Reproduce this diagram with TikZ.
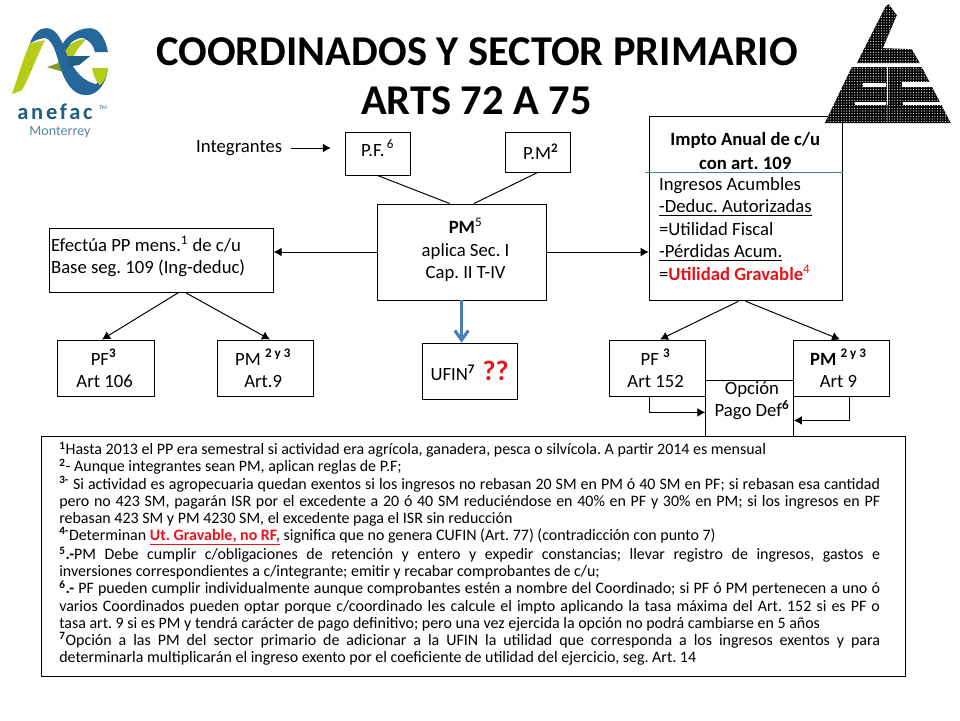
\documentclass[tikz,border=0pt]{standalone}
\usepackage{fontspec}
\setmainfont{Carlito}
\usepackage{tikz}
\usetikzlibrary{
  arrows.meta,
  calc,
  patterns.meta,
  positioning
}
\definecolor{anefacblue}{HTML}{25679A}
\definecolor{anefacteal}{HTML}{1F5F7F}
\definecolor{anefacgreen}{HTML}{B5CC18}
\definecolor{anefacdark}{HTML}{7F9A1C}
\definecolor{linerule}{HTML}{4A7EBB}
\definecolor{gravred}{HTML}{E8141C}
\newfontfamily\anefacfont[LetterSpace=12]{Carlito}
\tikzset{
  stepline/.style={line width=0.7pt,-{Latex[length=2mm,width=2.2mm]}},
  plainline/.style={line width=0.7pt},
  caja/.style={draw,line width=0.7pt,align=center,inner sep=0pt,font=\fontsize{13.3}{16}\selectfont},
  cuerpo/.style={font=\fontsize{13.3}{16}\selectfont,inner sep=0pt},
  titulo/.style={font=\fontsize{30.2}{30}\selectfont\bfseries},
  puntos/.style={pattern={Dots[radius=0.42pt,distance=1.9pt]},pattern color=white}
}
\begin{document}
\frenchspacing
\begin{tikzpicture}
                \useasboundingbox (0, 0) rectangle (24, 18);
                \fill[white] (0, 0) rectangle (24, 18);

                % titles
                \node[titulo] (title1) at (11.93, 16.7) {COORDINADOS Y SECTOR PRIMARIO};
                \node[titulo] (title2) at (11.91, 15.47) {ARTS 72 A 75};

                % top row
                \node[cuerpo] (integrantes) at (5.98, 14.3) {Integrantes};
                \node[caja,minimum width=1.63cm,minimum height=1.07cm] (pf) at (9.44, 14.16)
                  {\raisebox{2.7mm}{P.F.\textsuperscript{\,6}}};
                \node[caja,minimum width=1.62cm,minimum height=1.0cm] (pm) at (13.44, 14.2)
                  {\raisebox{-2.4mm}{\hspace*{1.6mm}P.M\textsuperscript{\textbf{2}}}};

                % centre
                \node[caja,minimum width=4.22cm,minimum height=2.4cm] (pmcentre) at (11.54, 11.7) {};
                \node[cuerpo,align=center] (pmtxt) at (11.64, 11.75)
                  {\textbf{PM}\textsuperscript{5}\\aplica Sec. I\\Cap. II T-IV};
                \node[caja,minimum width=2.38cm,minimum height=1.4cm] (ufin) at (11.74, 8.72)
                  {UFIN\textsuperscript{\textbf{7}} \,\textcolor{gravred}{\fontsize{20}{16}\selectfont\textbf{??}}};

                % left
                \node[caja,minimum width=5.6cm,minimum height=1.6cm] (pagos) at (4.03, 11.49) {};
                \node[cuerpo,align=left,anchor=west] (pagostxt) at (1.27, 11.59)
                  {Efectúa PP mens.\textsuperscript{1} de c/u\\Base seg. 109 (Ing-deduc)};
                \node[caja,minimum width=2.42cm,minimum height=1.42cm] (pfleft) at (2.64, 8.79)
                  {\hspace*{-1mm}PF\textsuperscript{\textbf{3}}\\\hspace*{-0.5mm}Art 106};
                \node[caja,minimum width=2.4cm,minimum height=1.42cm] (pmleft) at (6.63, 8.79)
                  {\hspace*{-1mm}PM \textsuperscript{\textbf{2 y 3}}\\\hspace*{-1mm}Art.9};

                % right
                \node[caja,minimum width=4.82cm,minimum height=4.6cm] (impto) at (18.64, 12.78) {};
                \node[cuerpo,font=\fontsize{13.3}{17}\selectfont\bfseries,align=center] (imptotit) at (18.63, 14.22)
                  {Impto Anual  de c/u\\con art. 109};
                \node[cuerpo,align=left,anchor=north west] (imptotxt) at (16.47, 13.57)
                  {Ingresos Acumbles\\\underline{-Deduc. Autorizadas}\\=Utilidad Fiscal\\\underline{-Pérdidas Acum.}\\=\textcolor{gravred}{\textbf{Utilidad Gravable}\textsuperscript{4}}};
                \coordinate (rulestart) at (16.12, 13.69);
                \coordinate (ruleend) at (impto.east |- rulestart);
                \draw[linerule,line width=0.6pt] (rulestart) -- (ruleend);

                \node[caja,minimum width=2.41cm,minimum height=1.42cm] (pfright) at (16.44, 8.79)
                  {\hspace*{-1mm}PF \textsuperscript{\textbf{3}}\\\hspace*{-1mm}Art 152};
                \node[caja,minimum width=2.4cm,minimum height=1.42cm] (pmright) at (21.03, 8.79)
                  {\hspace*{-1.4mm}\textbf{PM} \textsuperscript{\textbf{2 y 3}}\\\hspace*{-1.4mm}Art 9};
                \node[caja,minimum width=2.19cm,minimum height=1.4cm] (opcion) at (18.74, 7.8) {};
                \node[cuerpo,align=center] (opciontxt) at (18.8, 7.98)
                  {Opción\\Pago Def\textsuperscript{\textbf{6}}};

                % connectors
                \coordinate (intend) at (8.27, 14.3);
                \draw[stepline] ([xshift=2.2mm]integrantes.east) -- (intend);
                \draw[plainline] (pf.south) -- ([xshift=-3mm]pmcentre.north);
                \draw[plainline] (pm.south) -- ([xshift=3.1mm]pmcentre.north);
                \draw[stepline] (pmcentre.west) -- (pmcentre.west -| pagos.east);
                \draw[stepline] (pmcentre.east) -- (pmcentre.east -| impto.west);
                \draw[-{Straight Barb[length=2.4mm,width=3.4mm]},line width=2.2pt,linerule] (pmcentre.south) -- (pmcentre.south |- ufin.north);
                \draw[stepline] ([xshift=4.2mm]pagos.south) -- ([xshift=-0.9mm]pfleft.north);
                \draw[stepline] ([xshift=6.2mm]pagos.south) -- ([xshift=1.2mm]pmleft.north);
                \draw[stepline] ([xshift=-1.8mm]impto.south) -- ([xshift=0.6mm]pfright.north);
                \draw[stepline] (impto.south) -- ([xshift=-0.3mm]pmright.north);
                \draw[stepline] ([xshift=-2mm]pfright.south) |- ([yshift=-1.1mm]opcion.west);
                \draw[stepline] ([xshift=2.1mm]pmright.south) |- ([yshift=-3.1mm]opcion.east);

                % notes
                \node[draw,line width=0.7pt,fill=white,minimum width=21.6cm,minimum height=5.99cm] (notasbox) at (11.825, 4.09) {};
                \node[anchor=north west,inner sep=0pt,text width=20.52cm,align=justify,font=\fontsize{11.35}{12.2}\selectfont] (notas) at (1.475, 6.96)
                  {\lineskiplimit=-10pt\relax
                  \textsuperscript{\textbf{1}}Hasta 2013 el PP era semestral si actividad era agrícola, ganadera, pesca o silvícola. A partir 2014 es mensual\\
                  \textsuperscript{\textbf{2}}- Aunque integrantes sean PM, aplican reglas de P.F;\\
                  \textsuperscript{\textbf{3-}} Si actividad es agropecuaria quedan exentos si los ingresos no rebasan 20 SM en PM ó 40 SM en PF; si rebasan esa cantidad\linebreak
                  pero no 423 SM, pagarán ISR por el excedente a 20 ó 40 SM reduciéndose en 40\% en PF y 30\% en PM; si los ingresos en PF\linebreak
                  rebasan 423 SM y PM 4230 SM, el excedente paga el ISR sin reducción\\
                  \textsuperscript{\textbf{4-}}Determinan \textcolor{gravred}{\textbf{\underline{Ut. Gravable, no RF,}}} significa que no genera CUFIN (Art. 77) (contradicción con punto 7)\\
                  \textsuperscript{\textbf{5}}\textbf{.-}PM Debe cumplir c/obligaciones de retención y entero y expedir constancias; llevar registro de ingresos, gastos e\linebreak
                  inversiones correspondientes a c/integrante; emitir y recabar comprobantes de c/u;\\
                  \textsuperscript{\textbf{6}}\textbf{.-} PF pueden cumplir individualmente aunque comprobantes estén a nombre del Coordinado; si PF ó PM pertenecen a uno ó\linebreak
                  varios Coordinados pueden optar porque c/coordinado les calcule el impto aplicando la tasa máxima del Art. 152 si es PF o\linebreak
                  tasa art. 9 si es PM y tendrá carácter de pago definitivo; pero una vez ejercida la opción no podrá cambiarse en 5 años\\
                  \textsuperscript{\textbf{7}}Opción a las PM del sector primario de adicionar a la UFIN la utilidad que corresponda a los ingresos exentos y para\linebreak
                  determinarla multiplicarán el ingreso exento por el coeficiente de utilidad del ejercicio, seg. Art. 14};

                % triangle logo
                \begin{scope}[x=0.025cm,y=-0.025cm,shift={(0,-720)}]
                  \fill[black] (886,6) -- (889,4) -- (897,15) -- (883,48) -- (912,49) -- (920,63) -- (857,63) -- cycle;
                  \fill[black] (852,67) -- (922,67) -- (951,123) -- (825,123) -- cycle;
                  \fill[puntos] (886,6) -- (889,4) -- (897,15) -- (883,48) -- (912,49) -- (920,63) -- (857,63) -- cycle;
                  \fill[puntos] (852,67) -- (922,67) -- (951,123) -- (825,123) -- cycle;
                  \fill[white] (863,83) rectangle (886,87);
                  \fill[white] (902,82) rectangle (933,87);
                  \fill[white] (855,102) rectangle (886,105);
                  \fill[white] (903,102) rectangle (943,105);
                  \fill[white] (887,67) rectangle (888.3,105);
                  \fill[black!70] (887,105) rectangle (888.3,123);
                \end{scope}

                % anefac logo
                \begin{scope}[x=0.025cm,y=-0.025cm,shift={(0,-720)}]
                  \fill[anefacgreen] (12,94) .. controls (18,76) and (24,56) .. (30,43) -- (45,40) .. controls (36,58) and (30,76) .. (22,90) -- cycle;
                  \fill[anefacdark] (47,67) -- (58,63) .. controls (62,54) and (66,46) .. (70,43) -- (64,72) -- cycle;
                  \fill[anefacgreen] (60,60) .. controls (66,46) and (74,39) .. (86,39) -- (77,50) -- (66,70) -- cycle;
                  \fill[anefacblue] (30,43) .. controls (34,32) and (40,28) .. (46,28) .. controls (56,28) and (60,38) .. (64,46) .. controls (68,60) and (78,80) .. (96,84) -- (108,68) .. controls (106,86) and (96,95) .. (86,95) .. controls (72,95) and (64,80) .. (60,66) .. controls (56,54) and (54,42) .. (46,38) .. controls (40,38) and (36,40) .. (30,43) -- cycle;
                  \fill[anefacblue] (62,45) .. controls (66,36) and (78,28) .. (90,28) .. controls (100,28) and (106,40) .. (108,52) -- (95,52) .. controls (94,46) and (90,41) .. (84,38) .. controls (76,37) and (70,42) .. (66,50) -- cycle;
                  \fill[anefacteal] (67,56) -- (90,56) -- (79,65) -- (70,66) -- cycle;
                  \fill[anefacgreen] (92,68) -- (108,68) .. controls (107,76) and (104,82) .. (100,85) .. controls (96,82) and (94,76) .. (92,68) -- cycle;
                \end{scope}
                \node[font=\anefacfont\fontsize{16}{16}\selectfont\bfseries,text=anefacteal,inner sep=0pt] (anefac) at (1.375, 15.2) {anefac};
                \node[font=\fontsize{4}{4}\selectfont,text=anefacteal,inner sep=0pt] (marca) at (2.58, 15.32) {TM};
                \node[font=\fontsize{10}{10}\selectfont,text=anefacteal!75,inner sep=0pt] (monterrey) at (1.5, 14.7) {Monterrey};
              \end{tikzpicture}
\end{document}
